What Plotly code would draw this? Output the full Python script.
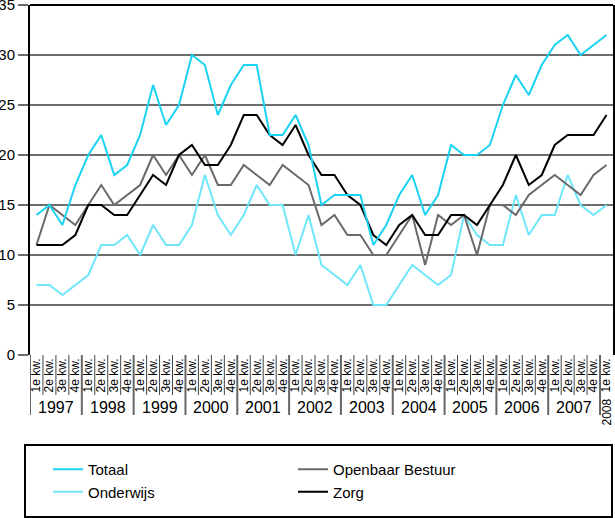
import plotly.graph_objects as go

years = ["1997", "1998", "1999", "2000", "2001", "2002", "2003", "2004", "2005", "2006", "2007", "2008"]
quarters = ["1e kw.", "2e kw.", "3e kw.", "4e kw."]
quarter_labels = [q for y in years[:-1] for q in quarters] + ["1e kw."]

totaal = [14, 15, 13, 17, 20, 22, 18, 19, 22, 27, 23, 25, 30, 29, 24, 27,
          29, 29, 22, 22, 24, 21, 15, 16, 16, 16, 11, 13, 16, 18, 14, 16,
          21, 20, 20, 21, 25, 28, 26, 29, 31, 32, 30, 31, 32]
onderwijs = [7, 7, 6, 7, 8, 11, 11, 12, 10, 13, 11, 11, 13, 18, 14, 12,
             14, 17, 15, 15, 10, 14, 9, 8, 7, 9, 5, 5, 7, 9, 8, 7,
             8, 14, 12, 11, 11, 16, 12, 14, 14, 18, 15, 14, 15]
openbaar = [11, 15, 14, 13, 15, 17, 15, 16, 17, 20, 18, 20, 18, 20, 17, 17,
            19, 18, 17, 19, 18, 17, 13, 14, 12, 12, 10, 10, 12, 14, 9, 14,
            13, 14, 10, 15, 15, 14, 16, 17, 18, 17, 16, 18, 19]
zorg = [11, 11, 11, 12, 15, 15, 14, 14, 16, 18, 17, 20, 21, 19, 19, 21,
        24, 24, 22, 21, 23, 20, 18, 18, 16, 15, 12, 11, 13, 14, 12, 12,
        14, 14, 13, 15, 17, 20, 17, 18, 21, 22, 22, 22, 24]

series = [
    ("Onderwijs", onderwijs, "#6fe6fb", 3),
    ("Openbaar Bestuur", openbaar, "#6a6a6a", 2),
    ("Zorg", zorg, "#000000", 4),
    ("Totaal", totaal, "#1ad3f3", 1),
]

idx = list(range(len(quarter_labels)))
FONT = "Liberation Sans, Arial, sans-serif"

fig = go.Figure()
for name, vals, color, rank in series:
    fig.add_trace(go.Scatter(x=idx, y=vals, mode="lines", name=name,
                             line=dict(color=color, width=2),
                             legendrank=rank, cliponaxis=False))

plot_w = 583.0
plot_h = 350.0
shapes = []
for i in idx:
    is_year = (i % 4 == 0)
    shapes.append(dict(type="line", xref="x", yref="paper",
                       x0=i - 0.5, x1=i - 0.5, y0=0,
                       y1=-(60 if is_year else 40) / plot_h,
                       line=dict(color="#666666" if is_year else "#444444",
                                 width=2 if is_year else 1)))
shapes.append(dict(type="line", xref="paper", yref="paper", x0=0, x1=1, y0=1, y1=1,
                   line=dict(color="black", width=2)))
shapes.append(dict(type="rect", xref="paper", yref="paper",
                   x0=-5 / plot_w, x1=582 / plot_w, y0=-162 / plot_h, y1=-90 / plot_h,
                   line=dict(color="black", width=2)))

annotations = []
for k, y in enumerate(years[:-1]):
    annotations.append(dict(x=4 * k + 1.5, y=-52 / plot_h, xref="x", yref="paper",
                            text=y, showarrow=False, xanchor="center", yanchor="middle",
                            font=dict(size=16, family=FONT, color="black")))
annotations.append(dict(x=44, y=-57 / plot_h, xref="x", yref="paper", text="2008",
                        showarrow=False, textangle=-90, xanchor="center", yanchor="middle",
                        font=dict(size=12, family=FONT, color="black")))

fig.update_layout(
    width=615, height=518,
    margin=dict(l=30, r=2, t=5, b=163, autoexpand=False),
    paper_bgcolor="white", plot_bgcolor="white",
    font=dict(family=FONT, color="black"),
    shapes=shapes, annotations=annotations,
    showlegend=True,
    legend=dict(orientation="h", x=18 / plot_w, y=-98 / plot_h, xanchor="left", yanchor="top",
                entrywidth=200, entrywidthmode="pixels",
                font=dict(size=15, family=FONT, color="black"),
                bgcolor="rgba(0,0,0,0)", traceorder="normal"),
    xaxis=dict(range=[-0.5, 44.5], tickmode="array", tickvals=idx, ticktext=quarter_labels,
               tickangle=-90, tickfont=dict(size=12, family=FONT, color="black"),
               showgrid=False, zeroline=False, showline=False, ticks="",
               automargin=False, ticklabeloverflow="allow"),
    yaxis=dict(range=[0, 35], tickmode="array", tickvals=[0, 5, 10, 15, 20, 25, 30, 35],
               showgrid=True, gridcolor="#6e6e6e",
               gridwidth=1.5, zeroline=False, showline=True, linecolor="black",
               linewidth=2, mirror=True, ticks="outside", ticklen=10,
               tickcolor="#6e6e6e", tickwidth=1.5, automargin=False,
               ticklabeloverflow="allow",
               tickfont=dict(size=15, family=FONT, color="black")),
)

fig.write_html("out.html", config={"displayModeBar": False},
               post_script="document.body.style.margin='0';document.body.style.padding='0';")
